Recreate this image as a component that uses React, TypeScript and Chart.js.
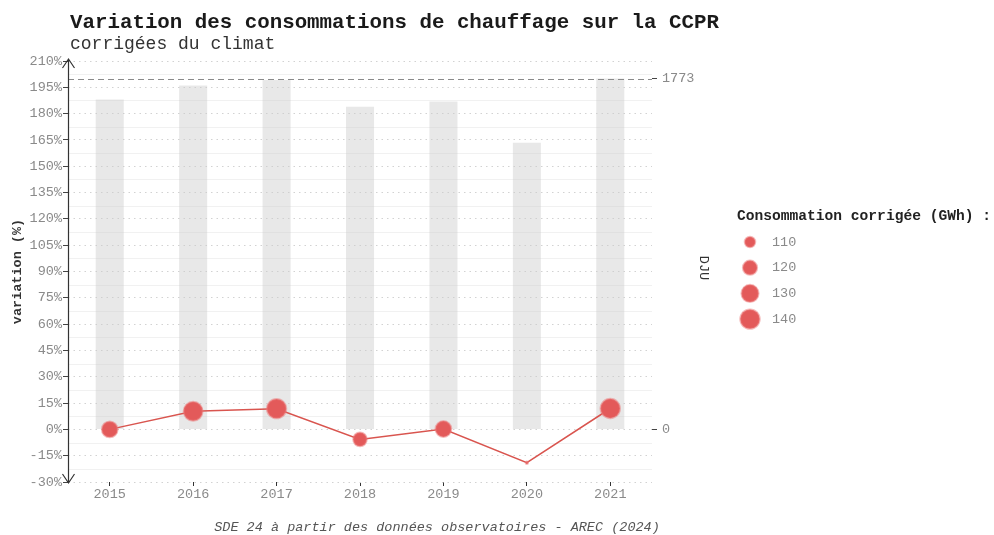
import React, { useEffect, useRef } from "react";
import { Chart, registerables } from "chart.js";

Chart.register(...registerables);

// ---- Data ----
const years = ["2015", "2016", "2017", "2018", "2019", "2020", "2021"];
const variation = [0, 10.3, 11.8, -5.7, 0.2, -19.0, 11.9]; // %
const consumption = [125.0, 137.9, 139.7, 117.9, 125.3, 101.2, 139.9]; // GWh
const dju = [1667, 1738, 1765, 1631, 1657, 1449, 1773];
const legendValues = [110, 120, 130, 140];
const yMin = -30;
const yMax = 210;
const yStep = 15;
const djuRefPct = 200; // max DJU drawn at this % level

const titleText = "Variation des consommations de chauffage sur la CCPR";
const subtitleText = "corrigées du climat";
const yTitle = "variation (%)";
const y2Title = "DJU";
const legendTitle = "Consommation corrigée (GWh) :";
const captionText = "SDE 24 à partir des données observatoires - AREC (2024)";

const FONT = "'Liberation Mono', 'DejaVu Sans Mono', monospace";

const cMin = Math.min(...consumption);
const cMax = Math.max(...consumption);
const radiusFor = (v: number) =>
  1.2 + 8.5 * Math.sqrt(Math.max(0, Math.min(1.05, (v - cMin) / (cMax - cMin))));

const djuMax = Math.max(...dju);
const POINT_FILL = "#e35a5a";
const POINT_BORDER = "rgba(236,120,120,0.5)";
const LINE_COLOR = "#d9554f";
const TICK_COLOR = "#8a8a8a";

const decorations = {
  id: "decorations",
  beforeDatasetsDraw(chart: any) {
    const { ctx, chartArea } = chart;
    const y = chart.scales.y;
    ctx.save();
    ctx.strokeStyle = "#f1f1f1";
    ctx.lineWidth = 1;
    for (let v = yMin + yStep / 2; v < yMax; v += yStep) {
      const py = Math.round(y.getPixelForValue(v)) + 0.5;
      ctx.beginPath();
      ctx.moveTo(chartArea.left, py);
      ctx.lineTo(chartArea.right, py);
      ctx.stroke();
    }
    ctx.restore();
  },
  afterDatasetsDraw(chart: any) {
    const { ctx, chartArea } = chart;
    const y2 = chart.scales.y2;
    ctx.save();
    const py = Math.round(y2.getPixelForValue(djuMax)) + 0.5;
    ctx.strokeStyle = "#8a8a8a";
    ctx.lineWidth = 1;
    ctx.setLineDash([6, 4]);
    ctx.beginPath();
    ctx.moveTo(chartArea.left, py);
    ctx.lineTo(chartArea.right, py);
    ctx.stroke();
    ctx.restore();
  },
  afterDraw(chart: any) {
    const { ctx, chartArea } = chart;
    ctx.save();
    // left axis with arrows
    const ax = chartArea.left + 0.5;
    ctx.strokeStyle = "#333";
    ctx.lineWidth = 1.2;
    ctx.beginPath();
    ctx.moveTo(ax, chartArea.top - 2);
    ctx.lineTo(ax, chartArea.bottom + 1);
    ctx.moveTo(ax - 6, chartArea.top + 7);
    ctx.lineTo(ax, chartArea.top - 2);
    ctx.lineTo(ax + 6, chartArea.top + 7);
    ctx.moveTo(ax - 6, chartArea.bottom - 8);
    ctx.lineTo(ax, chartArea.bottom + 1);
    ctx.lineTo(ax + 6, chartArea.bottom - 8);
    ctx.stroke();

    // titles
    ctx.fillStyle = "#1a1a1a";
    ctx.textAlign = "left";
    ctx.textBaseline = "alphabetic";
    ctx.font = `bold 20.8px ${FONT}`;
    ctx.fillText(titleText, 70, 28);
    ctx.fillStyle = "#333";
    ctx.font = `18px ${FONT}`;
    ctx.fillText(subtitleText, 70, 49);

    // y title
    ctx.save();
    ctx.translate(18, (chartArea.top + chartArea.bottom) / 2);
    ctx.rotate(-Math.PI / 2);
    ctx.textAlign = "center";
    ctx.textBaseline = "middle";
    ctx.font = `bold 13.5px ${FONT}`;
    ctx.fillStyle = "#333";
    ctx.fillText(yTitle, 0, 0);
    ctx.restore();

    // y2 title
    ctx.save();
    ctx.translate(704, 268);
    ctx.rotate(Math.PI / 2);
    ctx.textAlign = "center";
    ctx.textBaseline = "middle";
    ctx.font = `13.5px ${FONT}`;
    ctx.fillStyle = "#333";
    ctx.fillText(y2Title, 0, 0);
    ctx.restore();

    // legend
    ctx.fillStyle = "#222";
    ctx.font = `bold 14.6px ${FONT}`;
    ctx.textAlign = "left";
    ctx.textBaseline = "alphabetic";
    ctx.fillText(legendTitle, 737, 220);
    legendValues.forEach((v, i) => {
      const cy = 242 + i * 25.7;
      const r = radiusFor(v);
      ctx.beginPath();
      ctx.arc(750, cy, r, 0, Math.PI * 2);
      ctx.fillStyle = POINT_FILL;
      ctx.fill();
      ctx.lineWidth = 2;
      ctx.strokeStyle = POINT_BORDER;
      ctx.stroke();
      ctx.fillStyle = TICK_COLOR;
      ctx.font = `13.5px ${FONT}`;
      ctx.textBaseline = "middle";
      ctx.fillText(String(v), 772, cy);
      ctx.textBaseline = "alphabetic";
    });

    // caption
    ctx.fillStyle = "#555";
    ctx.font = `italic 13.5px ${FONT}`;
    ctx.textAlign = "center";
    ctx.fillText(captionText, 437, 531);
    ctx.restore();
  },
};

export default function App() {
  const ref = useRef<HTMLCanvasElement | null>(null);

  useEffect(() => {
    if (!ref.current) return;
    const y2Min = (yMin / djuRefPct) * djuMax;
    const y2Max = (yMax / djuRefPct) * djuMax;
    const chart = new Chart(ref.current, {
      type: "bar",
      data: {
        labels: years,
        datasets: [
          {
            type: "line",
            label: "variation",
            data: variation,
            yAxisID: "y",
            borderColor: LINE_COLOR,
            borderWidth: 1.5,
            pointRadius: consumption.map(radiusFor),
            pointHoverRadius: consumption.map(radiusFor),
            pointBackgroundColor: POINT_FILL,
            pointBorderColor: POINT_BORDER,
            pointBorderWidth: 2,
            order: 0,
          } as any,
          {
            type: "bar",
            label: "DJU",
            data: dju,
            yAxisID: "y2",
            backgroundColor: "rgba(205,205,205,0.45)",
            borderWidth: 0,
            categoryPercentage: 1,
            barPercentage: 0.336,
            order: 1,
          } as any,
        ],
      },
      options: {
        responsive: false,
        animation: false,
        layout: { padding: { top: 61, left: 0, right: 0, bottom: 0 } },
        plugins: {
          legend: { display: false },
          tooltip: { enabled: false },
          title: { display: false },
        },
        scales: {
          x: {
            type: "category",
            offset: true,
            grid: {
              display: true,
              drawOnChartArea: false,
              offset: false,
              tickLength: 4,
              tickColor: "#333",
            },
            border: { display: false },
            ticks: {
              color: TICK_COLOR,
              padding: 0,
              font: { family: FONT, size: 13.5 },
            },
            afterFit: (s: any) => {
              s.height = 53;
            },
          },
          y: {
            type: "linear",
            position: "left",
            min: yMin,
            max: yMax,
            grid: {
              color: "#d2d2d2",
              lineWidth: 1,
              tickLength: 5,
              tickColor: "#444",
            },
            border: { display: false, dash: [1.5, 4] },
            ticks: {
              stepSize: yStep,
              color: TICK_COLOR,
              padding: 1,
              font: { family: FONT, size: 13.5 },
              callback: (v: any) => `${v}%`,
            },
            afterFit: (s: any) => {
              s.width = 68;
            },
          },
          y2: {
            type: "linear",
            position: "right",
            min: y2Min,
            max: y2Max,
            grid: {
              display: true,
              drawOnChartArea: false,
              tickLength: 5,
              tickColor: "#444",
            },
            border: { display: false },
            afterBuildTicks: (s: any) => {
              s.ticks = [{ value: 0 }, { value: djuMax }];
            },
            ticks: {
              color: TICK_COLOR,
              padding: 5,
              font: { family: FONT, size: 13.5 },
              callback: (v: any) => String(v),
            },
            afterFit: (s: any) => {
              s.width = 342;
            },
          },
        },
      },
      plugins: [decorations],
    });
    return () => chart.destroy();
  }, []);

  return (
    <div style={{ position: "absolute", left: 0, top: 0, width: 994, height: 535, background: "#fff" }}>
      <canvas ref={ref} width={994} height={535} style={{ display: "block" }} />
    </div>
  );
}
